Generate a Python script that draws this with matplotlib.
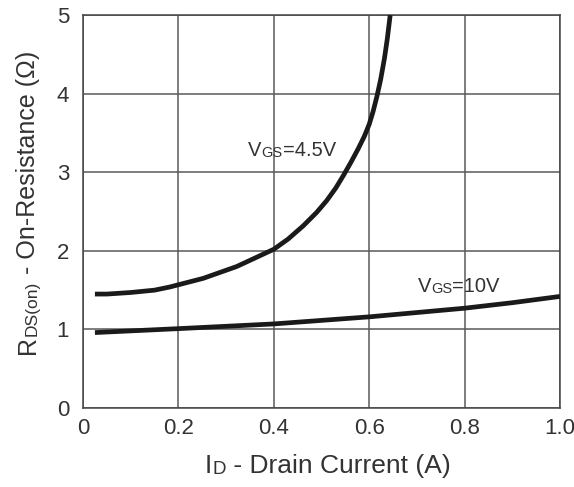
import matplotlib
matplotlib.use("Agg")
import matplotlib.pyplot as plt

# R_DS(on) vs drain current
id_45 = [0.025, 0.05, 0.10, 0.15, 0.182, 0.252, 0.322, 0.40, 0.43, 0.462, 0.49, 0.511, 0.53,
         0.546, 0.562, 0.577, 0.59, 0.60, 0.608, 0.616, 0.624, 0.632, 0.638, 0.644]
r_45 = [1.45, 1.45, 1.47, 1.50, 1.54, 1.65, 1.80, 2.02, 2.15, 2.32, 2.49, 2.64, 2.80,
        2.96, 3.13, 3.30, 3.46, 3.61, 3.77, 3.96, 4.18, 4.45, 4.70, 5.00]

id_10 = [0.025, 0.20, 0.40, 0.60, 0.80, 0.90, 1.00]
r_10 = [0.96, 1.01, 1.07, 1.16, 1.27, 1.34, 1.42]

xticks = [0, 0.2, 0.4, 0.6, 0.8, 1.0]
xticklabels = ["0", "0.2", "0.4", "0.6", "0.8", "1.0"]
yticks = [0, 1, 2, 3, 4, 5]

plt.rcParams["font.family"] = ["Liberation Sans", "DejaVu Sans"]

txt = "#333333"
fig = plt.figure(figsize=(5.74, 4.87), dpi=100)
ax = fig.add_axes([0.1446, 0.1622, 0.8310, 0.8068])

for xs, ys in [(id_45, r_45), (id_10, r_10)]:
    ax.plot(xs, ys, color="#1a1a1a", lw=3.4, solid_capstyle="butt",
            solid_joinstyle="round", zorder=3)

ax.set_xlim(0, 1.0)
ax.set_ylim(0, 5)
ax.set_xticks(xticks)
ax.set_xticklabels(xticklabels)
ax.set_yticks(yticks)
ax.grid(True, color="#5a5a5a", lw=1.1)
ax.tick_params(length=0, labelsize=16, colors=txt)
ax.tick_params(axis="x", pad=7)
ax.tick_params(axis="y", pad=10)
for s in ax.spines.values():
    s.set_color("#444444")
    s.set_linewidth(1.1)


def mixed(parts, xy, coords, rotation=0):
    # chain text pieces of different sizes on a common base line (small caps subscripts)
    prev = None
    for s, fs in parts:
        if prev is None:
            prev = ax.annotate(s, xy=xy, xycoords=coords, fontsize=fs, color=txt,
                               rotation=rotation, ha="right" if rotation else "left",
                               va="bottom", annotation_clip=False)
        elif rotation:
            prev = ax.annotate(s, xy=(1, 1), xycoords=prev, fontsize=fs, color=txt,
                               rotation=rotation, ha="right", va="bottom", annotation_clip=False)
        else:
            prev = ax.annotate(s, xy=(1, 0), xycoords=prev, fontsize=fs, color=txt,
                               ha="left", va="bottom", annotation_clip=False)


mixed([("V", 14.5), ("GS", 10.5), ("=4.5V", 14.5)], (0.346, 3.16), "data")
mixed([("V", 14.5), ("GS", 10.5), ("=10V", 14.5)], (0.702, 1.43), "data")

mixed([("I", 19), ("D", 13.5), (" - Drain Current (A)", 19)], (205, 9), "figure pixels")
mixed([("R", 18), ("DS(on)", 12.5), (" - On-Resistance (\u03a9)", 18)], (40, 133), "figure pixels", rotation=90)

fig.savefig("out.png", dpi=100)
